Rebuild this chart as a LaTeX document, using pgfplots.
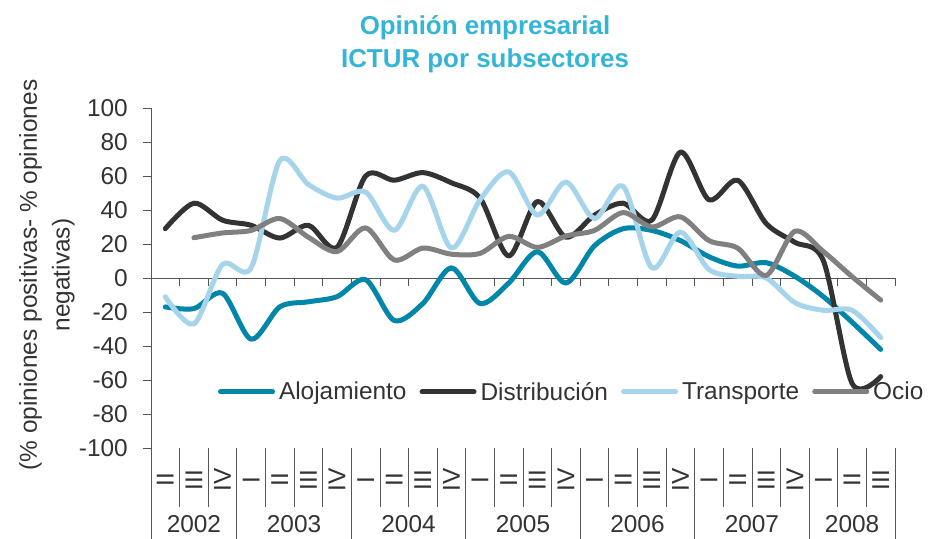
\documentclass[border=0pt]{standalone}
\usepackage{fontspec}
\setmainfont{Liberation Sans}
\usepackage{pgfplots}
\pgfplotsset{compat=1.18}
\definecolor{cAloj}{RGB}{0,134,168}
\definecolor{cDist}{RGB}{51,51,51}
\definecolor{cTrans}{RGB}{166,212,234}
\definecolor{cOcio}{RGB}{128,128,128}
\definecolor{cTitle}{RGB}{52,181,214}
\definecolor{cAxis}{RGB}{85,85,85}
\definecolor{cText}{RGB}{51,51,51}
\newcommand{\lblfont}{\fontsize{24.5}{29}\selectfont}
\begin{document}
\begin{tikzpicture}
\useasboundingbox (-151bp,-91bp) rectangle (779bp,448bp);
\begin{axis}[
  at={(0,0)}, anchor=south west,
  scale only axis, width=744bp, height=340bp,
  xmin=0, xmax=26, ymin=-100, ymax=100,
  clip=false,
  axis y line*=left, axis x line*=bottom,
  x axis line style={draw=none},
  y axis line style={cAxis, line width=0.8bp},
  tick align=outside,
  major tick length=8bp,
  ytick={-100,-80,...,100},
  ytick style={cAxis, line width=0.8bp},
  xtick={0.5,1.5,...,25.5},
  xtick style={draw=none},
  xticklabels={II,III,IV,I,II,III,IV,I,II,III,IV,I,II,III,IV,I,II,III,IV,I,II,III,IV,I,II,III},
  tick label style={font=\lblfont, text=cText},
  /pgf/number format/assume math mode=true,
  yticklabel style={inner sep=0pt, xshift=-15bp},
  xticklabel style={rotate=90, anchor=center, inner sep=0pt, xshift=-24bp},
  legend columns=-1,
  legend style={at={(0.0901,0.165)}, anchor=west, draw=none, fill=none,
    inner sep=0pt, outer sep=0pt, font=\lblfont, text=cText,
    nodes={inner sep=0pt},
    /tikz/every odd column/.append style={column sep=4bp},
    /tikz/every even column/.append style={column sep=13bp}},
  legend image code/.code={\draw[#1, line width=5bp, line cap=round] (2.5bp,0bp) -- (54.5bp,0bp);},
  every axis plot/.append style={line width=5bp, line cap=round, line join=round, smooth},
]
\draw[cAxis, line width=0.8bp] (axis cs:0,0) -- (axis cs:26,0);
\pgfplotsinvokeforeach{1,...,26}{\draw[cAxis, line width=0.8bp] (axis cs:#1,0) -- ++(0bp,-8bp);}
\pgfplotsinvokeforeach{1,2,4,5,6,8,9,10,12,13,14,16,17,18,20,21,22,24,25}{\draw[cAxis, line width=0.8bp] (axis cs:#1,-100) -- ++(0bp,-59bp);}
\pgfplotsinvokeforeach{0,3,7,11,15,19,23,26}{\draw[cAxis, line width=0.8bp] (axis cs:#1,-100) -- ++(0bp,-91bp);}

\addplot[cAloj] coordinates {(0.5,-17)(1.5,-18)(2.5,-9)(3.5,-36)(4.5,-17)(5.5,-14)(6.5,-11)(7.5,-1)(8.5,-25)(9.5,-15)(10.5,6)(11.5,-15)(12.5,-3)(13.5,15.5)(14.5,-3)(15.5,19)(16.5,29)(17.5,28)(18.5,22)(19.5,12.5)(20.5,7)(21.5,9)(22.5,1)(23.5,-11)(24.5,-26)(25.5,-42)};
\addlegendentry{Alojamiento}
\addplot[cDist] coordinates {(0.5,29)(1.5,44)(2.5,34)(3.5,31)(4.5,23.5)(5.5,31)(6.5,18)(7.5,60)(8.5,57.5)(9.5,62)(10.5,56)(11.5,47)(12.5,13)(13.5,45)(14.5,24)(15.5,37)(16.5,44)(17.5,34)(18.5,74)(19.5,46)(20.5,57.5)(21.5,32)(22.5,21)(23.5,10)(24.5,-62)(25.5,-58)};
\addlegendentry{Distribución}
\addplot[cTrans] coordinates {(0.5,-11)(1.5,-27)(2.5,8)(3.5,6)(4.5,69)(5.5,55)(6.5,47)(7.5,50.5)(8.5,28)(9.5,54)(10.5,17.6)(11.5,46)(12.5,62.5)(13.5,37)(14.5,56.5)(15.5,35)(16.5,54)(17.5,6)(18.5,27)(19.5,5)(20.5,1)(21.5,0)(22.5,-14.5)(23.5,-19)(24.5,-19)(25.5,-35)};
\addlegendentry{Transporte}
\addplot[cOcio] coordinates {(1.5,23.7)(2.5,26.5)(3.5,28)(4.5,35)(5.5,24)(6.5,15.5)(7.5,29.5)(8.5,10.6)(9.5,17.6)(10.5,14)(11.5,14.5)(12.5,24.5)(13.5,18)(14.5,24.7)(15.5,28)(16.5,38.5)(17.5,30)(18.5,36)(19.5,22)(20.5,17.6)(21.5,1.5)(22.5,27.5)(23.5,15.5)(24.5,0.8)(25.5,-13)};
\addlegendentry{Ocio}

\node[font=\lblfont, text=cText] at (axis cs:1.5,-100) [yshift=-76bp] {2002};
\node[font=\lblfont, text=cText] at (axis cs:5,-100) [yshift=-76bp] {2003};
\node[font=\lblfont, text=cText] at (axis cs:9,-100) [yshift=-76bp] {2004};
\node[font=\lblfont, text=cText] at (axis cs:13,-100) [yshift=-76bp] {2005};
\node[font=\lblfont, text=cText] at (axis cs:17,-100) [yshift=-76bp] {2006};
\node[font=\lblfont, text=cText] at (axis cs:21,-100) [yshift=-76bp] {2007};
\node[font=\lblfont, text=cText] at (axis cs:24.5,-100) [yshift=-76bp] {2008};
\end{axis}
\node[rotate=90, align=center, font=\fontsize{24.5}{33}\selectfont, text=cText] at (-104bp,173bp) {(\% opiniones positivas- \% opiniones\\negativas)};
\node[anchor=base, font=\bfseries\fontsize{26}{30}\selectfont, text=cTitle] at (334bp,413bp) {Opinión empresarial};
\node[anchor=base, font=\bfseries\fontsize{26}{30}\selectfont, text=cTitle] at (334bp,380bp) {ICTUR por subsectores};
\end{tikzpicture}
\end{document}
